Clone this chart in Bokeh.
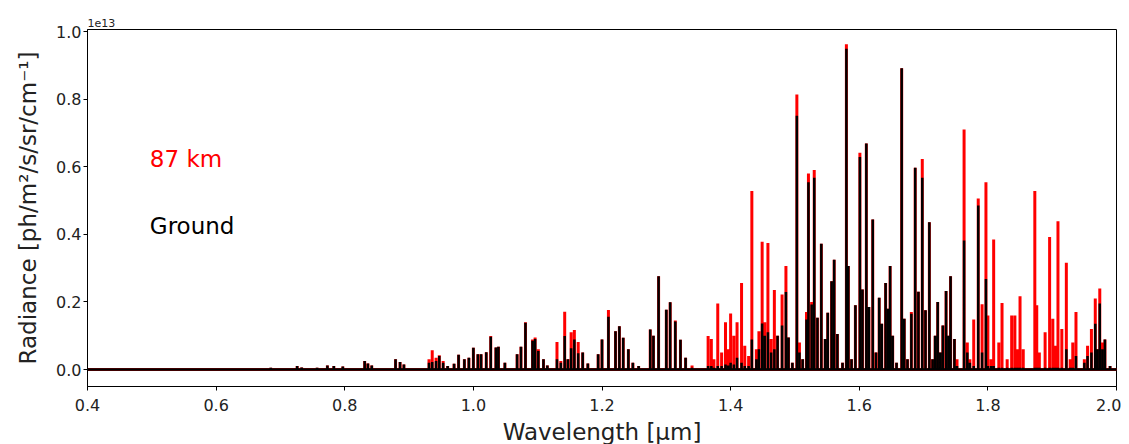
from bokeh.plotting import figure
from bokeh.models import Range1d, PrintfTickFormatter, FixedTicker, ColumnDataSource
from bokeh.core.properties import value
from bokeh.embed import file_html
from bokeh.resources import INLINE

# ---------------- data (radiance in units of 1e13 ph/m2/s/sr/cm-1) ----------------
WL_MIN, WL_MAX = 0.4, 2.0

PEAK_WL = [
    0.623, 0.685, 0.726, 0.733, 0.757, 0.773, 0.783, 0.797, 0.831, 0.836, 0.842,
    0.879, 0.886, 0.892, 0.931, 0.936, 0.942, 0.947, 0.953, 0.960, 0.970, 0.977,
    0.986, 0.993, 1.000, 1.007, 1.012, 1.020, 1.027, 1.035, 1.039, 1.049, 1.068,
    1.074, 1.081, 1.092, 1.096, 1.101, 1.109, 1.115, 1.130, 1.136, 1.142, 1.147,
    1.152, 1.157, 1.163, 1.170, 1.178, 1.194, 1.200, 1.210, 1.221, 1.227, 1.233,
    1.241, 1.248, 1.257, 1.275, 1.280, 1.288, 1.300, 1.306, 1.314, 1.322, 1.330,
    1.340, 1.365, 1.370, 1.374, 1.380, 1.386, 1.392, 1.396, 1.400, 1.405, 1.410,
    1.417, 1.422, 1.428, 1.433, 1.440, 1.444, 1.449, 1.453, 1.458, 1.463, 1.468,
    1.473, 1.480, 1.486, 1.490, 1.496, 1.503, 1.507, 1.512, 1.518, 1.521, 1.526,
    1.530, 1.535, 1.541, 1.547, 1.551, 1.557, 1.561, 1.566, 1.574, 1.580, 1.583,
    1.588, 1.594, 1.601, 1.605, 1.611, 1.615, 1.621, 1.626, 1.631, 1.635, 1.641,
    1.645, 1.648, 1.652, 1.658, 1.666, 1.670, 1.675, 1.681, 1.687, 1.692, 1.698,
    1.703, 1.709, 1.714, 1.718, 1.722, 1.726, 1.730, 1.735, 1.739, 1.742, 1.748,
    1.752, 1.763, 1.768, 1.772, 1.778, 1.785, 1.791, 1.797, 1.800, 1.805, 1.809,
    1.817, 1.822, 1.830, 1.837, 1.842, 1.846, 1.850, 1.855, 1.873, 1.876, 1.880,
    1.889, 1.896, 1.901, 1.905, 1.909, 1.915, 1.922, 1.928, 1.932, 1.937, 1.950,
    1.955, 1.961, 1.967, 1.970, 1.974, 1.978, 1.982, 1.990,
]

RED_87KM = [
    0.003, 0.005, 0.010, 0.006, 0.005, 0.012, 0.010, 0.009, 0.025, 0.018, 0.012,
    0.030, 0.022, 0.015, 0.030, 0.057, 0.035, 0.042, 0.025, 0.010, 0.017, 0.044,
    0.030, 0.035, 0.064, 0.045, 0.045, 0.051, 0.099, 0.065, 0.067, 0.020, 0.045,
    0.067, 0.140, 0.089, 0.095, 0.060, 0.030, 0.012, 0.081, 0.025, 0.171, 0.030,
    0.110, 0.117, 0.081, 0.050, 0.018, 0.045, 0.089, 0.176, 0.113, 0.128, 0.094,
    0.060, 0.020, 0.010, 0.118, 0.100, 0.276, 0.177, 0.199, 0.145, 0.088, 0.035,
    0.012, 0.099, 0.090, 0.030, 0.195, 0.050, 0.140, 0.060, 0.166, 0.100, 0.140,
    0.256, 0.070, 0.040, 0.528, 0.060, 0.113, 0.378, 0.140, 0.374, 0.090, 0.235,
    0.100, 0.222, 0.306, 0.095, 0.020, 0.814, 0.080, 0.030, 0.170, 0.580, 0.200,
    0.590, 0.153, 0.372, 0.090, 0.168, 0.261, 0.325, 0.105, 0.020, 0.962, 0.306,
    0.030, 0.190, 0.641, 0.237, 0.669, 0.185, 0.444, 0.050, 0.212, 0.135, 0.256,
    0.180, 0.306, 0.100, 0.020, 0.891, 0.150, 0.030, 0.170, 0.597, 0.230, 0.623,
    0.175, 0.436, 0.030, 0.100, 0.200, 0.050, 0.130, 0.232, 0.100, 0.276, 0.090,
    0.030, 0.710, 0.080, 0.030, 0.148, 0.506, 0.193, 0.554, 0.160, 0.030, 0.385,
    0.080, 0.197, 0.030, 0.160, 0.160, 0.060, 0.217, 0.060, 0.528, 0.190, 0.050,
    0.110, 0.392, 0.150, 0.070, 0.439, 0.120, 0.316, 0.030, 0.080, 0.170, 0.030,
    0.070, 0.120, 0.210, 0.060, 0.240, 0.080, 0.089, 0.010,
]

BLACK_GROUND = [
    0.003, 0.005, 0.010, 0.006, 0.005, 0.012, 0.010, 0.009, 0.025, 0.018, 0.012,
    0.030, 0.022, 0.015, 0.020, 0.022, 0.025, 0.040, 0.020, 0.010, 0.017, 0.044,
    0.030, 0.035, 0.064, 0.045, 0.045, 0.051, 0.097, 0.065, 0.067, 0.020, 0.045,
    0.067, 0.138, 0.085, 0.090, 0.055, 0.030, 0.012, 0.030, 0.020, 0.099, 0.030,
    0.063, 0.089, 0.048, 0.050, 0.018, 0.045, 0.089, 0.156, 0.113, 0.128, 0.094,
    0.060, 0.020, 0.010, 0.118, 0.100, 0.276, 0.177, 0.199, 0.142, 0.088, 0.035,
    0.005, 0.010, 0.010, 0.005, 0.010, 0.010, 0.015, 0.012, 0.020, 0.015, 0.035,
    0.020, 0.010, 0.010, 0.089, 0.030, 0.060, 0.136, 0.100, 0.110, 0.050, 0.060,
    0.100, 0.130, 0.229, 0.095, 0.020, 0.751, 0.050, 0.030, 0.148, 0.554, 0.192,
    0.567, 0.153, 0.372, 0.090, 0.168, 0.261, 0.325, 0.105, 0.020, 0.949, 0.306,
    0.030, 0.190, 0.629, 0.237, 0.669, 0.185, 0.444, 0.050, 0.212, 0.135, 0.256,
    0.180, 0.306, 0.100, 0.020, 0.891, 0.150, 0.030, 0.165, 0.597, 0.230, 0.567,
    0.175, 0.436, 0.030, 0.100, 0.200, 0.050, 0.130, 0.232, 0.100, 0.276, 0.090,
    0.010, 0.382, 0.050, 0.020, 0.010, 0.485, 0.050, 0.268, 0.010, 0.010, 0.010,
    0.005, 0.005, 0.005, 0.005, 0.005, 0.005, 0.005, 0.005, 0.005, 0.005, 0.005,
    0.005, 0.005, 0.005, 0.005, 0.005, 0.005, 0.060, 0.005, 0.005, 0.040, 0.020,
    0.040, 0.050, 0.135, 0.060, 0.195, 0.060, 0.089, 0.010,
]

LABEL_TEXT = ["87 km", "Ground"]
LABEL_X = [0.5, 0.5]
LABEL_Y = [0.6, 0.4]
LABEL_COLOR = ["#ff0000", "#000000"]

X_TICKS = [0.4, 0.6, 0.8, 1.0, 1.2, 1.4, 1.6, 1.8, 2.0]
Y_TICKS = [0.0, 0.2, 0.4, 0.6, 0.8, 1.0]


def spectrum_path(wl, vals):
    """Line path through the baseline with a vertical stroke at every line."""
    xs, ys = [WL_MIN], [0.0]
    for w, v in zip(wl, vals):
        xs += [w, w, w]
        ys += [0.0, v, 0.0]
    xs.append(WL_MAX)
    ys.append(0.0)
    return xs, ys


FONT = "DejaVu Sans"

p = figure(
    frame_width=1029, frame_height=357,
    x_range=Range1d(WL_MIN, WL_MAX), y_range=Range1d(-0.0503, 1.006),
    output_backend="svg", toolbar_location=None,
    min_border_left=87, min_border_right=5, min_border_top=29, min_border_bottom=48,
)
p.background_fill_color = "white"
p.border_fill_color = "white"
p.outline_line_color = "black"
p.outline_line_width = 1
p.xgrid.visible = False
p.ygrid.visible = False

# title used as the matplotlib offset text
p.title.text = "1e13"
p.title.text_font = FONT
p.title.text_font_size = "11px"
p.title.text_font_style = "normal"
p.title.text_color = "#222222"
p.title.align = "left"
p.title.offset = 0
p.title.standoff = 6

rx, ry = spectrum_path(PEAK_WL, RED_87KM)
bx, by = spectrum_path(PEAK_WL, BLACK_GROUND)
p.line(rx, ry, line_color="#ff0000", line_width=3.0, line_join="bevel")
p.line(bx, by, line_color="#000000", line_width=2.5, line_join="bevel")

src = ColumnDataSource(dict(x=LABEL_X, y=LABEL_Y, t=LABEL_TEXT, c=LABEL_COLOR))
p.text(x="x", y="y", text="t", text_color="c", source=src,
       text_font=value(FONT), text_font_size="23px",
       text_align="left", text_baseline="alphabetic",
       x_offset=-2, y_offset=-8)

for ax in (p.xaxis[0], p.yaxis[0]):
    ax.axis_line_color = "black"
    ax.axis_line_width = 1
    ax.major_tick_line_color = "black"
    ax.major_tick_out = 4
    ax.major_tick_in = 0
    ax.minor_tick_out = 0
    ax.minor_tick_in = 0
    ax.major_label_text_font = FONT
    ax.major_label_text_font_size = "16px"
    ax.major_label_text_color = "#222222"
    ax.axis_label_text_font = FONT
    ax.axis_label_text_font_size = "23px"
    ax.axis_label_text_font_style = "normal"
    ax.axis_label_text_color = "#222222"
    ax.formatter = PrintfTickFormatter(format="%.1f")

p.xaxis[0].ticker = FixedTicker(ticks=X_TICKS)
p.yaxis[0].ticker = FixedTicker(ticks=Y_TICKS)
p.xaxis[0].axis_label = "Wavelength [μm]"
p.yaxis[0].axis_label = "Radiance [ph/m²/s/sr/cm⁻¹]"
p.xaxis[0].major_label_standoff = 8
p.xaxis[0].axis_label_standoff = 5
p.yaxis[0].major_label_standoff = 2
p.yaxis[0].axis_label_standoff = 12

open("out.html", "w").write(file_html(p, INLINE))
